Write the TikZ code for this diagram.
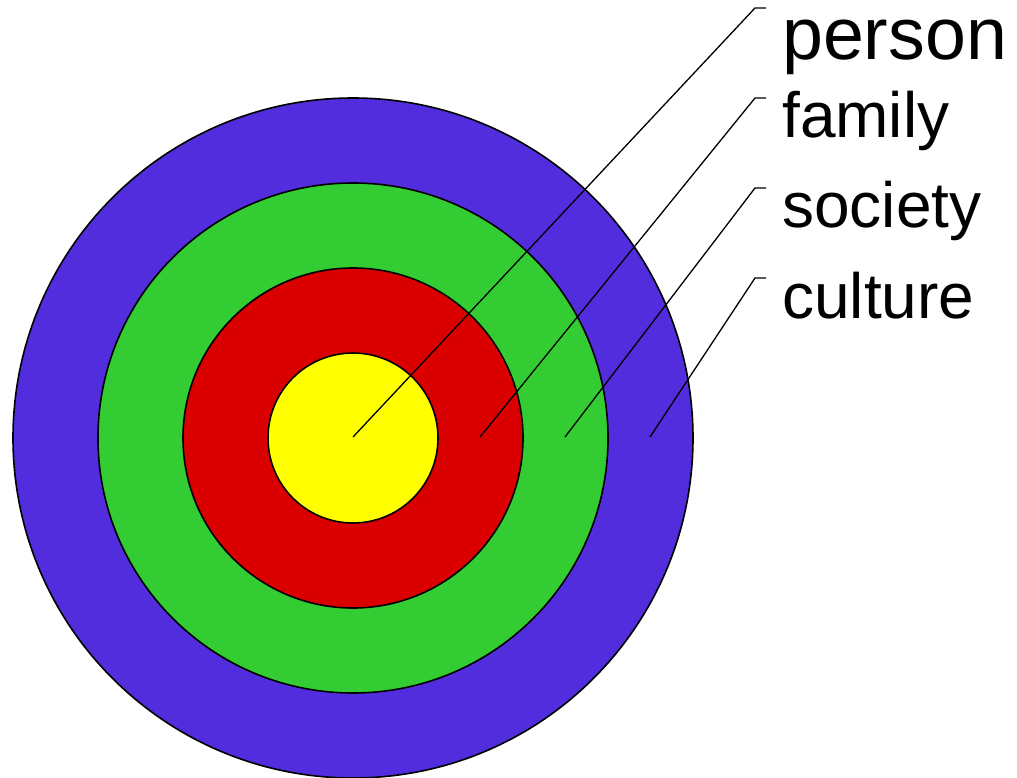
\documentclass[tikz,border=0pt]{standalone}
\usepackage{fontspec}
\setmainfont{Liberation Sans}
\usepackage{xcolor}
\definecolor{ringblue}{RGB}{82,45,221}
\definecolor{ringgreen}{RGB}{51,204,51}
\definecolor{ringred}{RGB}{218,0,0}
\definecolor{ringyellow}{RGB}{255,255,0}
\usepackage{tikz}
\usetikzlibrary{positioning}

\begin{document}
\begin{tikzpicture}[x=1pt, y=-1pt,
  ring/.style={circle, draw=black, line width=1.6pt, inner sep=0pt},
  leader/.style={black, line width=1.3pt},
  lbl/.style={anchor=base west, inner sep=0pt, text=black}]

\useasboundingbox (0,0) rectangle (1017,778);

% === Rings ===
\node[ring, fill=ringblue,   minimum size=680pt] (culturering) at (353,438) {};
\node[ring, fill=ringgreen,  minimum size=510pt] (societyring) at (353,438) {};
\node[ring, fill=ringred,    minimum size=340pt] (familyring)  at (353,438) {};
\node[ring, fill=ringyellow, minimum size=170pt] (personring)  at (353,438) {};

% === Labels ===
\node[lbl, font=\fontsize{73.5}{80}\selectfont] (personlbl)  at (782,60)  {person};
\node[lbl, font=\fontsize{64}{70}\selectfont] (familylbl)  at (782,138) {family};
\node[lbl, font=\fontsize{64}{70}\selectfont] (societylbl) at (782,228) {society};
\node[lbl, font=\fontsize{64}{70}\selectfont] (culturelbl) at (782,318) {culture};

% leader points
\coordinate (personpt)  at (353,437);
\coordinate (familypt)  at (480,437);
\coordinate (societypt) at (565,437);
\coordinate (culturept) at (650,437);

\coordinate (personknee)  at (755,8);
\coordinate (familyknee)  at (755,98);
\coordinate (societyknee) at (755,188);
\coordinate (cultureknee) at (755,278);

\coordinate (personend)  at (766,8);
\coordinate (familyend)  at (766,98);
\coordinate (societyend) at (766,188);
\coordinate (cultureend) at (766,278);

% === Leaders ===
\draw[leader] (personpt)  -- (personknee)  -- (personend);
\draw[leader] (familypt)  -- (familyknee)  -- (familyend);
\draw[leader] (societypt) -- (societyknee) -- (societyend);
\draw[leader] (culturept) -- (cultureknee) -- (cultureend);

\end{tikzpicture}
\end{document}
